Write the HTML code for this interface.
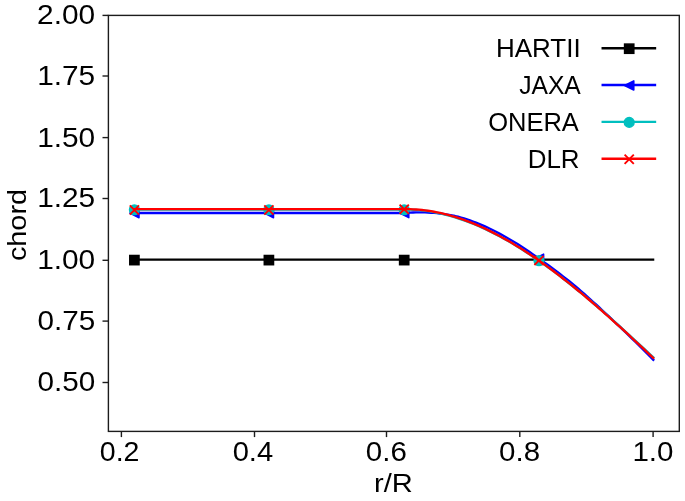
<!DOCTYPE html>
<html><head><meta charset="utf-8"><style>
html,body{margin:0;padding:0;background:#fff;}
svg{display:block;will-change:transform;}
.t{font-family:"Liberation Sans",sans-serif;font-size:26px;fill:#000;}
</style></head><body>
<svg width="685" height="501" viewBox="0 0 685 501">
<rect width="685" height="501" fill="#fff"/>
<rect x="108.4" y="15.4" width="570.9" height="416.0" fill="none" stroke="#1c1c1c" stroke-width="1.4"/>
<line x1="102.5" y1="15.40" x2="108.4" y2="15.40" stroke="#1c1c1c" stroke-width="1.4"/>
<text class="t" style="font-size:27.4px" transform="translate(37.11,24.30) scale(1.0900,1)">2.00</text>
<line x1="102.5" y1="76.00" x2="108.4" y2="76.00" stroke="#1c1c1c" stroke-width="1.4"/>
<text class="t" style="font-size:27.4px" transform="translate(37.16,84.90) scale(1.0889,1)">1.75</text>
<line x1="102.5" y1="137.60" x2="108.4" y2="137.60" stroke="#1c1c1c" stroke-width="1.4"/>
<text class="t" style="font-size:27.4px" transform="translate(37.16,146.50) scale(1.0889,1)">1.50</text>
<line x1="102.5" y1="198.50" x2="108.4" y2="198.50" stroke="#1c1c1c" stroke-width="1.4"/>
<text class="t" style="font-size:27.4px" transform="translate(37.16,207.40) scale(1.0889,1)">1.25</text>
<line x1="102.5" y1="260.30" x2="108.4" y2="260.30" stroke="#1c1c1c" stroke-width="1.4"/>
<text class="t" style="font-size:27.4px" transform="translate(37.16,269.20) scale(1.0889,1)">1.00</text>
<line x1="102.5" y1="321.10" x2="108.4" y2="321.10" stroke="#1c1c1c" stroke-width="1.4"/>
<text class="t" style="font-size:27.4px" transform="translate(37.41,330.00) scale(1.0841,1)">0.75</text>
<line x1="102.5" y1="382.50" x2="108.4" y2="382.50" stroke="#1c1c1c" stroke-width="1.4"/>
<text class="t" style="font-size:27.4px" transform="translate(37.41,391.40) scale(1.0841,1)">0.50</text>
<line x1="121.40" y1="431.4" x2="121.40" y2="437.09999999999997" stroke="#1c1c1c" stroke-width="1.4"/>
<text class="t" style="font-size:27.4px" transform="translate(99.76,461.30) scale(1.0415,1)">0.2</text>
<line x1="254.50" y1="431.4" x2="254.50" y2="437.09999999999997" stroke="#1c1c1c" stroke-width="1.4"/>
<text class="t" style="font-size:27.4px" transform="translate(232.63,461.30) scale(1.0645,1)">0.4</text>
<line x1="386.50" y1="431.4" x2="386.50" y2="437.09999999999997" stroke="#1c1c1c" stroke-width="1.4"/>
<text class="t" style="font-size:27.4px" transform="translate(365.82,461.30) scale(1.0767,1)">0.6</text>
<line x1="519.80" y1="431.4" x2="519.80" y2="437.09999999999997" stroke="#1c1c1c" stroke-width="1.4"/>
<text class="t" style="font-size:27.4px" transform="translate(499.12,461.30) scale(1.0767,1)">0.8</text>
<line x1="653.10" y1="431.4" x2="653.10" y2="437.09999999999997" stroke="#1c1c1c" stroke-width="1.4"/>
<text class="t" style="font-size:27.4px" transform="translate(632.38,461.30) scale(1.0791,1)">1.0</text>
<text class="t" style="font-size:26px" transform="translate(374.01,492.00) scale(1.1192,1)">r/R</text>
<text class="t" style="font-size:25.6px" transform="translate(25.70,261.10) rotate(-90) scale(1.1277,1)">chord</text>
<line x1="134.4" y1="259.6" x2="653.1" y2="259.6" stroke="#000" stroke-width="2.35" stroke-linecap="square"/>
<rect x="129.80" y="255.50" width="9.2" height="9.2" fill="#000" stroke="#000" stroke-width="1.53"/>
<rect x="264.30" y="255.50" width="9.2" height="9.2" fill="#000" stroke="#000" stroke-width="1.53"/>
<rect x="399.60" y="255.50" width="9.2" height="9.2" fill="#000" stroke="#000" stroke-width="1.53"/>
<polyline points="134.40,213.00 140.00,213.00 143.00,213.00 146.00,213.00 149.00,213.00 152.00,213.00 155.00,213.00 158.00,213.00 161.00,213.00 164.00,213.00 167.00,213.00 170.00,213.00 173.00,213.00 176.00,213.00 179.00,213.00 182.00,213.00 185.00,213.00 188.00,213.00 191.00,213.00 194.00,213.00 197.00,213.00 200.00,213.00 203.00,213.00 206.00,213.00 209.00,213.00 212.00,213.00 215.00,213.00 218.00,213.00 221.00,213.00 224.00,213.00 227.00,213.00 230.00,213.00 233.00,213.00 236.00,213.00 239.00,213.00 242.00,213.00 245.00,213.00 248.00,213.00 251.00,213.00 254.00,213.00 257.00,213.00 260.00,213.00 263.00,213.00 266.00,213.00 269.00,213.00 272.00,213.00 275.00,213.00 278.00,213.00 281.00,213.00 284.00,213.00 287.00,213.00 290.00,213.00 293.00,213.00 296.00,213.00 299.00,213.00 302.00,213.00 305.00,213.00 308.00,213.00 311.00,213.00 314.00,213.00 317.00,213.00 320.00,213.00 323.00,213.00 326.00,213.00 329.00,213.00 332.00,213.00 335.00,213.00 338.00,213.00 341.00,213.00 344.00,213.00 347.00,213.00 350.00,213.00 353.00,213.00 356.00,213.00 359.00,213.00 362.00,213.00 365.00,213.00 368.00,213.00 371.00,213.00 374.00,213.00 377.00,213.00 380.00,213.00 383.00,213.00 386.00,213.00 389.00,213.00 392.00,213.00 395.00,213.00 398.00,213.00 401.00,213.00 404.00,213.00 407.00,212.78 410.00,212.60 413.00,212.48 416.00,212.42 419.00,212.40 422.00,212.39 425.00,212.44 428.00,212.55 431.00,212.71 434.00,212.90 437.00,213.16 440.00,213.47 443.00,213.84 446.00,214.30 449.00,214.82 452.00,215.39 455.00,216.02 458.00,216.73 461.00,217.59 464.00,218.49 467.00,219.45 470.00,220.45 473.00,221.50 476.00,222.63 479.00,223.85 482.00,225.13 485.00,226.44 488.00,227.80 491.00,229.21 494.00,230.71 497.00,232.27 500.00,233.87 503.00,235.52 506.00,237.21 509.00,238.93 512.00,240.70 515.00,242.50 518.00,244.34 521.00,246.24 524.00,248.22 527.00,250.24 530.00,252.29 533.00,254.37 536.00,256.49 539.00,258.64 542.00,260.74 545.00,262.88 548.00,265.04 551.00,267.24 554.00,269.47 557.00,271.72 560.00,274.00 563.00,276.31 566.00,278.65 569.00,281.02 572.00,283.41 575.00,285.82 578.00,288.42 581.00,291.04 584.00,293.69 587.00,296.35 590.00,299.04 593.00,301.75 596.00,304.48 599.00,307.23 602.00,310.00 605.00,312.78 608.00,315.58 611.00,318.40 614.00,321.24 617.00,324.09 620.00,326.95 623.00,329.83 626.00,332.73 629.00,335.65 632.00,338.58 635.00,341.52 638.00,344.48 641.00,347.45 644.00,350.44 647.00,353.44 650.00,356.45 653.30,359.76" fill="none" stroke="#0000ff" stroke-width="2.35" stroke-linejoin="round" stroke-linecap="square"/>
<path d="M129.80,213.10 L139.00,208.50 L139.00,217.70 Z" fill="#0000ff" stroke="#0000ff" stroke-width="1.53" stroke-linejoin="round"/>
<path d="M264.30,213.10 L273.50,208.50 L273.50,217.70 Z" fill="#0000ff" stroke="#0000ff" stroke-width="1.53" stroke-linejoin="round"/>
<path d="M399.60,213.09 L408.80,208.49 L408.80,217.69 Z" fill="#0000ff" stroke="#0000ff" stroke-width="1.53" stroke-linejoin="round"/>
<path d="M534.40,258.74 L543.60,254.14 L543.60,263.34 Z" fill="#0000ff" stroke="#0000ff" stroke-width="1.53" stroke-linejoin="round"/>
<polyline points="134.40,209.60 140.00,209.60 143.00,209.60 146.00,209.60 149.00,209.60 152.00,209.60 155.00,209.60 158.00,209.60 161.00,209.60 164.00,209.60 167.00,209.60 170.00,209.60 173.00,209.60 176.00,209.60 179.00,209.60 182.00,209.60 185.00,209.60 188.00,209.60 191.00,209.60 194.00,209.60 197.00,209.60 200.00,209.60 203.00,209.60 206.00,209.60 209.00,209.60 212.00,209.60 215.00,209.60 218.00,209.60 221.00,209.60 224.00,209.60 227.00,209.60 230.00,209.60 233.00,209.60 236.00,209.60 239.00,209.60 242.00,209.60 245.00,209.60 248.00,209.60 251.00,209.60 254.00,209.60 257.00,209.60 260.00,209.60 263.00,209.60 266.00,209.60 269.00,209.60 272.00,209.60 275.00,209.60 278.00,209.60 281.00,209.60 284.00,209.60 287.00,209.60 290.00,209.60 293.00,209.60 296.00,209.60 299.00,209.60 302.00,209.60 305.00,209.60 308.00,209.60 311.00,209.60 314.00,209.60 317.00,209.60 320.00,209.60 323.00,209.60 326.00,209.60 329.00,209.60 332.00,209.60 335.00,209.60 338.00,209.60 341.00,209.60 344.00,209.60 347.00,209.60 350.00,209.60 353.00,209.60 356.00,209.60 359.00,209.60 362.00,209.60 365.00,209.60 368.00,209.60 371.00,209.60 374.00,209.60 377.00,209.60 380.00,209.60 383.00,209.60 386.00,209.60 389.00,209.60 392.00,209.60 395.00,209.60 398.00,209.60 401.00,209.60 404.00,209.60 407.00,209.60 410.00,209.65 413.00,209.76 416.00,209.92 419.00,210.15 422.00,210.44 425.00,210.79 428.00,211.20 431.00,211.66 434.00,212.19 437.00,212.76 440.00,213.40 443.00,214.08 446.00,214.81 449.00,215.60 452.00,216.44 455.00,217.33 458.00,218.28 461.00,219.27 464.00,220.32 467.00,221.41 470.00,222.56 473.00,223.75 476.00,224.99 479.00,226.27 482.00,227.61 485.00,228.98 488.00,230.41 491.00,231.87 494.00,233.38 497.00,234.94 500.00,236.53 503.00,238.17 506.00,239.84 509.00,241.56 512.00,243.32 515.00,245.11 518.00,246.94 521.00,248.81 524.00,250.72 527.00,252.66 530.00,254.64 533.00,256.65 536.00,258.69 539.00,260.77 542.00,262.88 545.00,265.02 548.00,267.20 551.00,269.40 554.00,271.63 557.00,273.89 560.00,276.18 563.00,278.50 566.00,280.85 569.00,283.22 572.00,285.61 575.00,288.04 578.00,290.48 581.00,292.94 584.00,295.42 587.00,297.92 590.00,300.44 593.00,302.98 596.00,305.54 599.00,308.12 602.00,310.72 605.00,313.34 608.00,315.97 611.00,318.62 614.00,321.29 617.00,323.97 620.00,326.67 623.00,329.38 626.00,332.10 629.00,334.83 632.00,337.58 635.00,340.34 638.00,343.11 641.00,345.89 644.00,348.67 647.00,351.47 650.00,354.27 653.30,357.36" fill="none" stroke="#00bfbf" stroke-width="2.35" stroke-linejoin="round" stroke-linecap="square"/>
<circle cx="134.40" cy="209.75" r="4.85" fill="#00bfbf" stroke="#00bfbf" stroke-width="1.53"/>
<circle cx="268.90" cy="209.75" r="4.85" fill="#00bfbf" stroke="#00bfbf" stroke-width="1.53"/>
<circle cx="404.20" cy="209.75" r="4.85" fill="#00bfbf" stroke="#00bfbf" stroke-width="1.53"/>
<circle cx="539.00" cy="260.74" r="4.85" fill="#00bfbf" stroke="#00bfbf" stroke-width="1.53"/>
<polyline points="134.40,209.15 140.00,209.15 143.00,209.15 146.00,209.15 149.00,209.15 152.00,209.15 155.00,209.15 158.00,209.15 161.00,209.15 164.00,209.15 167.00,209.15 170.00,209.15 173.00,209.15 176.00,209.15 179.00,209.15 182.00,209.15 185.00,209.15 188.00,209.15 191.00,209.15 194.00,209.15 197.00,209.15 200.00,209.15 203.00,209.15 206.00,209.15 209.00,209.15 212.00,209.15 215.00,209.15 218.00,209.15 221.00,209.15 224.00,209.15 227.00,209.15 230.00,209.15 233.00,209.15 236.00,209.15 239.00,209.15 242.00,209.15 245.00,209.15 248.00,209.15 251.00,209.15 254.00,209.15 257.00,209.15 260.00,209.15 263.00,209.15 266.00,209.15 269.00,209.15 272.00,209.15 275.00,209.15 278.00,209.15 281.00,209.15 284.00,209.15 287.00,209.15 290.00,209.15 293.00,209.15 296.00,209.15 299.00,209.15 302.00,209.15 305.00,209.15 308.00,209.15 311.00,209.15 314.00,209.15 317.00,209.15 320.00,209.15 323.00,209.15 326.00,209.15 329.00,209.15 332.00,209.15 335.00,209.15 338.00,209.15 341.00,209.15 344.00,209.15 347.00,209.15 350.00,209.15 353.00,209.15 356.00,209.15 359.00,209.15 362.00,209.15 365.00,209.15 368.00,209.15 371.00,209.15 374.00,209.15 377.00,209.15 380.00,209.15 383.00,209.15 386.00,209.15 389.00,209.15 392.00,209.15 395.00,209.15 398.00,209.15 401.00,209.15 404.00,209.15 407.00,209.15 410.00,209.20 413.00,209.31 416.00,209.47 419.00,209.70 422.00,209.99 425.00,210.34 428.00,210.75 431.00,211.21 434.00,211.74 437.00,212.31 440.00,212.95 443.00,213.64 446.00,214.38 449.00,215.18 452.00,216.03 455.00,216.93 458.00,217.88 461.00,218.89 464.00,219.94 467.00,221.05 470.00,222.20 473.00,223.40 476.00,224.65 479.00,225.95 482.00,227.29 485.00,228.68 488.00,230.11 491.00,231.59 494.00,233.11 497.00,234.67 500.00,236.27 503.00,237.92 506.00,239.61 509.00,241.33 512.00,243.10 515.00,244.90 518.00,246.74 521.00,248.62 524.00,250.54 527.00,252.49 530.00,254.48 533.00,256.50 536.00,258.55 539.00,260.64 542.00,262.76 545.00,264.91 548.00,267.09 551.00,269.31 554.00,271.55 557.00,273.82 560.00,276.12 563.00,278.45 566.00,280.80 569.00,283.18 572.00,285.59 575.00,288.02 578.00,290.47 581.00,292.95 584.00,295.45 587.00,297.98 590.00,300.52 593.00,303.09 596.00,305.67 599.00,308.28 602.00,310.90 605.00,313.54 608.00,316.20 611.00,318.88 614.00,321.57 617.00,324.27 620.00,326.99 623.00,329.73 626.00,332.47 629.00,335.23 632.00,338.01 635.00,340.79 638.00,343.58 641.00,346.39 644.00,349.20 647.00,352.02 650.00,354.85 653.30,357.96" fill="none" stroke="#ff0000" stroke-width="2.35" stroke-linejoin="round" stroke-linecap="square"/>
<path d="M129.80,205.35 L139.00,214.55 M129.80,214.55 L139.00,205.35" stroke="#ff0000" stroke-width="1.9" fill="none"/>
<path d="M264.30,205.35 L273.50,214.55 M264.30,214.55 L273.50,205.35" stroke="#ff0000" stroke-width="1.9" fill="none"/>
<path d="M399.60,204.65 L408.80,213.85 M399.60,213.85 L408.80,204.65" stroke="#ff0000" stroke-width="1.9" fill="none"/>
<path d="M534.40,255.84 L543.60,265.04 M534.40,265.04 L543.60,255.84" stroke="#ff0000" stroke-width="1.9" fill="none"/>
<line x1="602.7" y1="48.2" x2="655.0" y2="48.2" stroke="#000" stroke-width="2.35" stroke-linecap="square"/>
<rect x="624.60" y="44.10" width="9.2" height="9.2" fill="#000" stroke="#000" stroke-width="1.53"/>
<text class="t" style="font-size:26px" transform="translate(495.92,57.30) scale(0.9995,1)">HARTII</text>
<line x1="602.7" y1="85.0" x2="655.0" y2="85.0" stroke="#0000ff" stroke-width="2.35" stroke-linecap="square"/>
<path d="M624.60,85.50 L633.80,80.90 L633.80,90.10 Z" fill="#0000ff" stroke="#0000ff" stroke-width="1.53" stroke-linejoin="round"/>
<text class="t" style="font-size:26px" transform="translate(519.13,94.20) scale(0.9491,1)">JAXA</text>
<line x1="602.7" y1="121.9" x2="655.0" y2="121.9" stroke="#00bfbf" stroke-width="2.35" stroke-linecap="square"/>
<circle cx="629.20" cy="122.40" r="4.85" fill="#00bfbf" stroke="#00bfbf" stroke-width="1.53"/>
<text class="t" style="font-size:26px" transform="translate(488.15,131.10) scale(0.9821,1)">ONERA</text>
<line x1="602.7" y1="158.7" x2="655.0" y2="158.7" stroke="#ff0000" stroke-width="2.35" stroke-linecap="square"/>
<path d="M624.60,154.60 L633.80,163.80 M624.60,163.80 L633.80,154.60" stroke="#ff0000" stroke-width="1.9" fill="none"/>
<text class="t" style="font-size:26px" transform="translate(527.73,168.00) scale(0.9975,1)">DLR</text>
</svg>
</body></html>
